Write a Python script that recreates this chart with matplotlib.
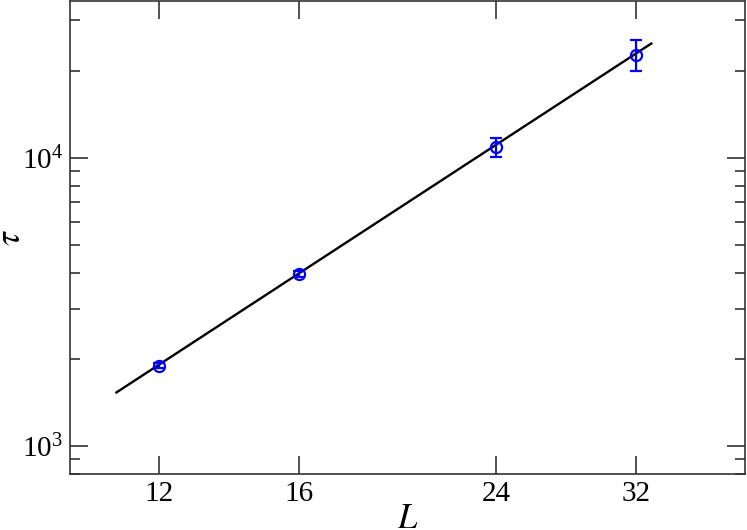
import matplotlib.pyplot as plt
import numpy as np
from matplotlib.ticker import FixedLocator, LogLocator, NullFormatter

# measured relaxation times
L_vals = [12, 16, 24, 32]
tau_vals = [1900, 3950, 10900, 22800]
tau_err = [40, 90, 830, 2750]

# power-law fit tau = A * L^z
fit_A = 3.49
fit_z = 2.538
fit_L_range = [11.0, 33.0]

x_ticks = [12, 16, 24, 32]

plt.rcParams['font.family'] = ['Liberation Serif', 'DejaVu Serif']
plt.rcParams['mathtext.fontset'] = 'stix'

fig = plt.figure(figsize=(7.47, 5.30), dpi=100)
ax = fig.add_axes([0.0937, 0.1057, 0.9036, 0.8923])

L_fit = np.geomspace(fit_L_range[0], fit_L_range[1], 100)
ax.plot(L_fit, fit_A * L_fit ** fit_z, color='black', lw=1.7, zorder=2)

ax.errorbar(L_vals, tau_vals, yerr=tau_err, fmt='o', mfc='none', mec='blue',
            ms=8, mew=1.6, ecolor='blue', elinewidth=1.6, capsize=4, capthick=1.6, zorder=3)

ax.set_xscale('log')
ax.set_yscale('log')
ax.set_xlim(10, 40)
ax.set_ylim(800, 35000)

ax.xaxis.set_major_locator(FixedLocator(x_ticks))
ax.xaxis.set_minor_locator(FixedLocator([]))
ax.set_xticklabels([str(t) for t in x_ticks])
ax.yaxis.set_major_locator(LogLocator(base=10))
ax.yaxis.set_minor_locator(LogLocator(base=10, subs=np.arange(2, 10)))
ax.yaxis.set_minor_formatter(NullFormatter())

ax.tick_params(which='both', direction='in', top=True, right=True,
               labelsize=21, color='#333333')
ax.tick_params(which='major', length=13, width=1.2, pad=5)
ax.tick_params(which='minor', length=7, width=1.2)
for s in ax.spines.values():
    s.set_linewidth(1.2)
    s.set_color('#333333')

ax.set_xlabel('$L$', fontsize=25)
ax.xaxis.set_label_coords(0.5, -0.062)
ax.set_ylabel(r'$\tau$', fontsize=25)
ax.yaxis.set_label_coords(-0.062, 0.5)

fig.savefig('out.png', dpi=100)
